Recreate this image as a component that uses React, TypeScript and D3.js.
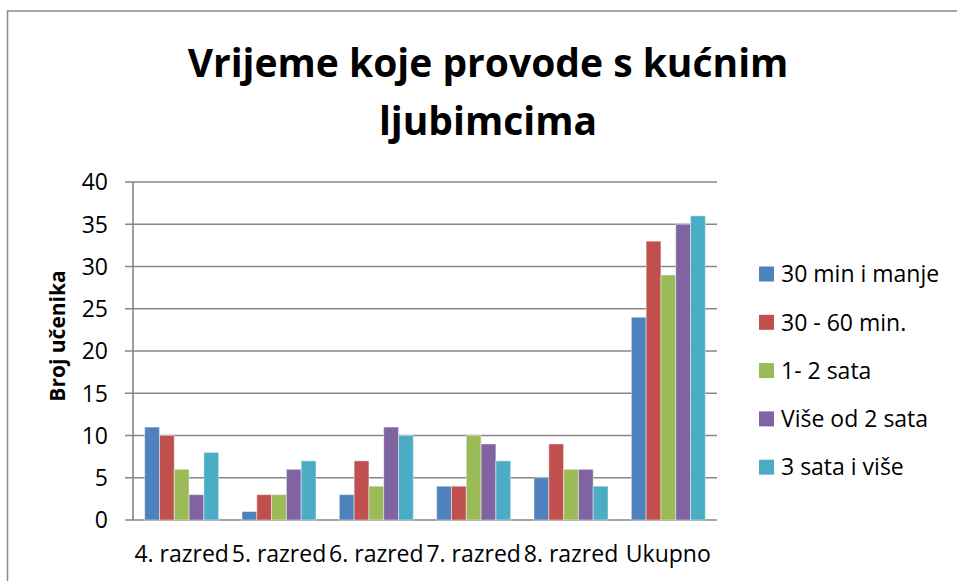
import React, { useEffect, useRef } from 'react';
import * as d3 from 'd3';

// grades on the x axis
const categories = ['4. razred', '5. razred', '6. razred', '7. razred', '8. razred', 'Ukupno'];

// one array per series, in category order
const series = ['30 min i manje', '30 - 60 min.', '1- 2 sata', 'Više od 2 sata', '3 sata i više'];
const min30 = [11, 1, 3, 4, 5, 24];
const min30to60 = [10, 3, 7, 4, 9, 33];
const hours1to2 = [6, 3, 4, 10, 6, 29];
const over2h = [3, 6, 11, 9, 6, 35];
const hours3plus = [8, 7, 10, 7, 4, 36];
const yTicks = [0, 5, 10, 15, 20, 25, 30, 35, 40];

const colors = ['#4F81BD', '#C0504D', '#9BBB59', '#8064A2', '#4BACC6'];

const W = 957;
const H = 581;

const App = () => {
  const svgRef = useRef<SVGSVGElement>(null);

  useEffect(() => {
    const svg = d3.select(svgRef.current);
    svg.selectAll('*').remove();

    const values = [min30, min30to60, hours1to2, over2h, hours3plus];
    const font = "'Open Sans', sans-serif";

    // chart frame (only top and left edges are visible in the crop)
    svg.append('rect')
      .attr('x', 7.5).attr('y', 11)
      .attr('width', W + 20).attr('height', H + 20)
      .attr('fill', '#fff')
      .attr('stroke', '#8a8a8a')
      .attr('stroke-width', 1.5);

    // title
    const title = svg.append('text')
      .attr('text-anchor', 'middle')
      .style('font-family', font)
      .style('font-weight', 700)
      .style('font-size', '39px')
      .attr('fill', '#000');
    title.append('tspan').attr('x', 488).attr('y', 77).text('Vrijeme koje provode s kućnim');
    title.append('tspan').attr('x', 488).attr('y', 135).text('ljubimcima');

    const left = 133, right = 717, top = 182, bottom = 520;

    const x0 = d3.scaleBand<string>()
      .domain(categories)
      .range([left, right])
      .paddingInner(0.24)
      .paddingOuter(0.12);

    const x1 = d3.scaleBand<string>()
      .domain(series)
      .range([0, x0.bandwidth()]);

    const y = d3.scaleLinear().domain([0, 40]).range([bottom, top]);

    // gridlines
    svg.append('g')
      .selectAll('line')
      .data(yTicks)
      .join('line')
      .attr('x1', left - 8)
      .attr('x2', right)
      .attr('y1', d => y(d))
      .attr('y2', d => y(d))
      .attr('stroke', '#868686')
      .attr('stroke-width', 1.6);

    // y axis line
    svg.append('line')
      .attr('x1', left).attr('x2', left)
      .attr('y1', top).attr('y2', bottom)
      .attr('stroke', '#868686')
      .attr('stroke-width', 1.6);

    // y tick labels
    svg.append('g')
      .selectAll('text')
      .data(yTicks)
      .join('text')
      .attr('x', 108)
      .attr('y', d => y(d))
      .attr('dy', '0.36em')
      .attr('text-anchor', 'end')
      .style('font-family', font)
      .style('font-size', '23px')
      .attr('fill', '#000')
      .text(d => d);

    // y axis title
    svg.append('text')
      .attr('transform', `translate(65, 336) rotate(-90)`)
      .attr('text-anchor', 'middle')
      .style('font-family', font)
      .style('font-weight', 700)
      .style('font-size', '21px')
      .attr('fill', '#000')
      .text('Broj učenika');

    // bars
    series.forEach((s, si) => {
      svg.append('g')
        .selectAll('rect')
        .data(categories)
        .join('rect')
        .attr('x', c => (x0(c) as number) + (x1(s) as number))
        .attr('y', (c, i) => y(values[si][i]))
        .attr('width', x1.bandwidth())
        .attr('height', (c, i) => bottom - y(values[si][i]))
        .attr('fill', colors[si])
        .attr('stroke', '#ffffff')
        .attr('stroke-opacity', 0.45)
        .attr('stroke-width', 1);
    });

    // x labels
    svg.append('g')
      .selectAll('text')
      .data(categories)
      .join('text')
      .attr('x', c => (x0(c) as number) + x0.bandwidth() / 2)
      .attr('y', 562)
      .attr('text-anchor', 'middle')
      .style('font-family', font)
      .style('font-size', '23px')
      .attr('fill', '#000')
      .text(c => c);

    // legend
    const legend = svg.append('g');
    series.forEach((s, i) => {
      const cy = 274 + i * 48.3;
      legend.append('rect')
        .attr('x', 759).attr('y', cy - 7.5)
        .attr('width', 15).attr('height', 15)
        .attr('fill', colors[i]);
      legend.append('text')
        .attr('x', 781).attr('y', cy)
        .attr('dy', '0.36em')
        .style('font-family', font)
        .style('font-size', '23px')
        .attr('fill', '#000')
        .text(s);
    });
  }, []);

  return (
    <svg
      ref={svgRef}
      width={W}
      height={H}
      style={{ position: 'absolute', left: 0, top: 0, background: '#fff' }}
    />
  );
};

export default App;
